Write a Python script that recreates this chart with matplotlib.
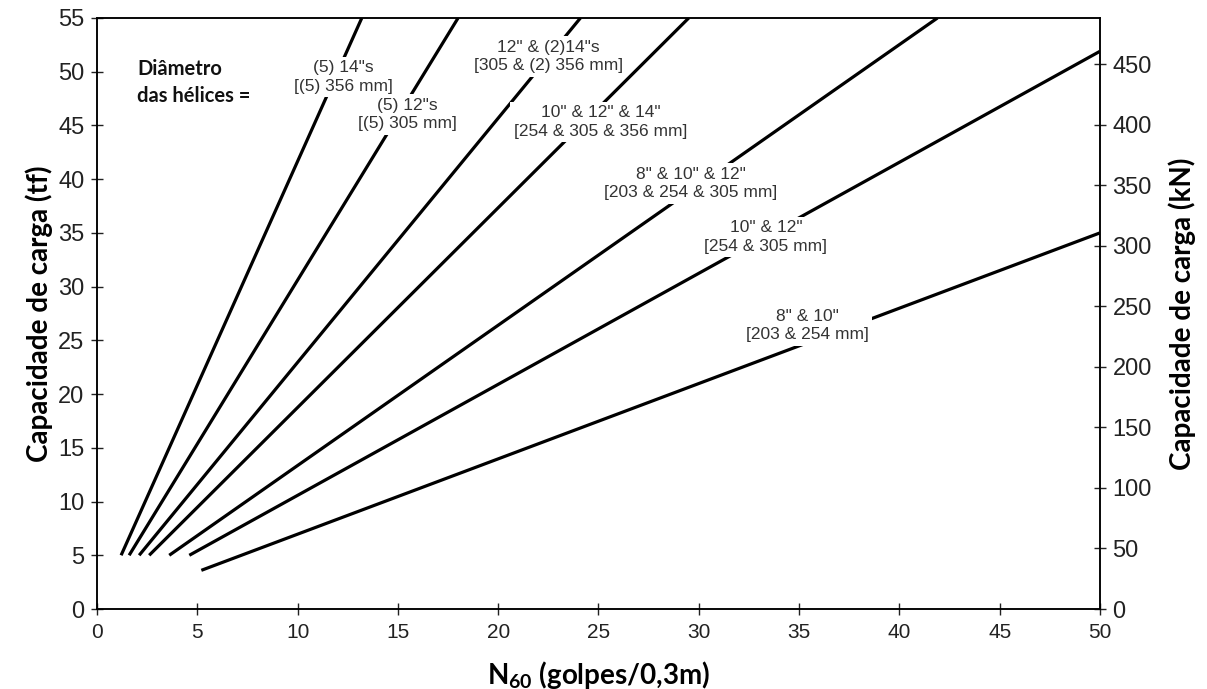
import matplotlib
matplotlib.use('Agg')
import matplotlib.pyplot as plt

plt.rcParams['font.family'] = ['Liberation Sans', 'DejaVu Sans']
plt.rcParams['mathtext.fontset'] = 'custom'
plt.rcParams['mathtext.rm'] = 'Lato:bold'
plt.rcParams['mathtext.bf'] = 'Lato:bold'

# helix load lines: start and end points (N60, tf)
x_start = [1.2, 1.6, 2.1, 2.6, 3.6, 4.6, 5.2]
y_start = [5.0, 5.0, 5.0, 5.0, 5.0, 5.0, 3.6]
x_end = [13.2, 18.0, 24.1, 29.5, 41.9, 50.0, 50.0]
y_end = [55.0, 55.0, 55.0, 55.0, 55.0, 51.9, 35.0]

labels = ['(5) 14"s\n[(5) 356 mm]',
          '(5) 12"s\n[(5) 305 mm]',
          '12" & (2)14"s\n[305 & (2) 356 mm]',
          '10" & 12" & 14"\n[254 & 305 & 356 mm]',
          '8" & 10" & 12"\n[203 & 254 & 305 mm]',
          '10" & 12"\n[254 & 305 mm]',
          '8" & 10"\n[203 & 254 mm]']
label_x = [12.3, 15.45, 22.5, 25.1, 29.6, 33.35, 35.4]
label_y = [49.5, 46.0, 51.4, 45.3, 39.6, 34.6, 26.4]

x_ticks = list(range(0, 51, 5))
tf_ticks = list(range(0, 56, 5))
kn_ticks = list(range(0, 451, 50))

fig = plt.figure(figsize=(12.07, 6.89), dpi=100)
ax = fig.add_axes([0.0804, 0.1161, 0.8309, 0.8578])

for i in range(len(x_start)):
    ax.plot([x_start[i], x_end[i]], [y_start[i], y_end[i]],
            color='black', linewidth=2.3, solid_capstyle='butt', zorder=2)
    ax.text(label_x[i], label_y[i], labels[i], ha='center', va='center',
            fontsize=12.5, color='#333333', linespacing=1.3, zorder=3,
            bbox=dict(boxstyle='square,pad=0.2', facecolor='white', edgecolor='none'))

ax.text(2.0, 49.0, 'Diâmetro\ndas hélices =', ha='left', va='center',
        fontsize=14.5, fontweight='bold', family='Lato', color='#111111',
        linespacing=1.45)

ax.set_xlim(0, 50)
ax.set_ylim(0, 55)
ax.set_xticks(x_ticks)
ax.set_yticks(tf_ticks)
ax.tick_params(direction='inout', length=8, width=1, colors='#222222')
ax.tick_params(axis='x', labelsize=15, pad=6)
ax.tick_params(axis='y', labelsize=17, pad=5)
ax.set_ylabel('Capacidade de carga (tf)', family='Lato', fontweight='bold',
              fontsize=20, labelpad=4)
ax.set_xlabel(r'N$_{\mathrm{60}}$ (golpes/0,3m)', family='Lato', fontweight='bold',
              fontsize=20, labelpad=12)

ax2 = ax.twinx()
ax2.set_ylim(0, 488)
ax2.set_yticks(kn_ticks)
ax2.tick_params(direction='inout', length=8, width=1, labelsize=17, pad=5,
                colors='#222222')
ax2.set_ylabel('Capacidade de carga (kN)', family='Lato', fontweight='bold',
               fontsize=20, labelpad=12)

for a in (ax, ax2):
    for s in a.spines.values():
        s.set_linewidth(1.1)

fig.savefig('out.png', dpi=100)
